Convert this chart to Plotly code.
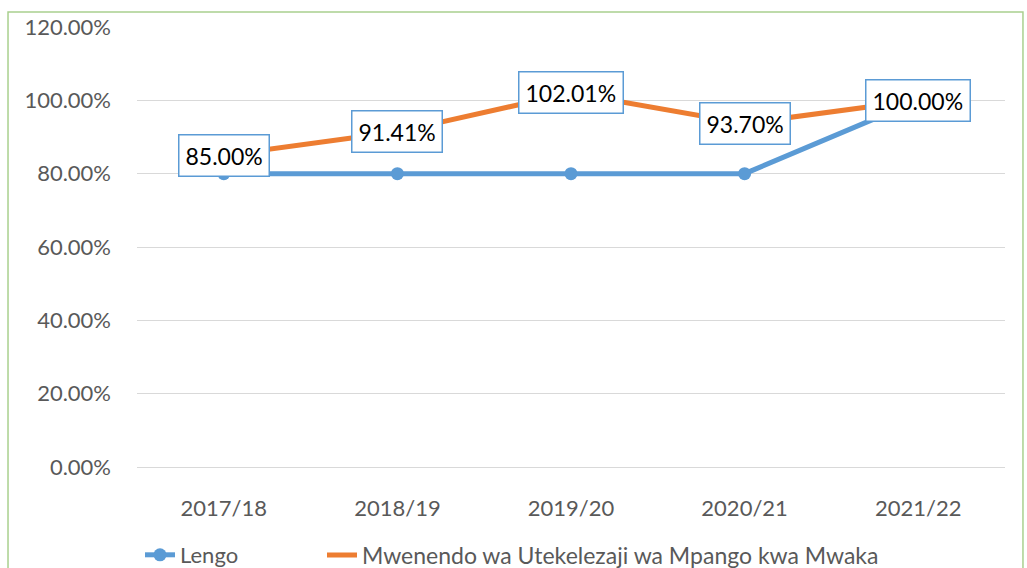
import plotly.graph_objects as go

categories = ["2017/18", "2018/19", "2019/20", "2020/21", "2021/22"]
lengo = [0.80, 0.80, 0.80, 0.80, 1.00]
mwenendo = [0.85, 0.9141, 1.0201, 0.9370, 1.00]
label_texts = ["85.00%", "91.41%", "102.01%", "93.70%", "100.00%"]
y_ticks = [0, 0.2, 0.4, 0.6, 0.8, 1.0, 1.2]

FONT = "Lato"
BLUE = "#5B9BD5"
ORANGE = "#ED7D31"

fig = go.Figure()
fig.add_trace(go.Scatter(
    x=categories, y=lengo, name="Lengo", mode="lines+markers",
    line=dict(color=BLUE, width=5), marker=dict(size=13, color=BLUE),
    legend="legend",
))
fig.add_trace(go.Scatter(
    x=categories, y=mwenendo, name="Mwenendo wa Utekelezaji wa Mpango kwa Mwaka",
    mode="lines", line=dict(color=ORANGE, width=5),
    legend="legend2",
))

for c, v, t in zip(categories, mwenendo, label_texts):
    fig.add_annotation(
        x=c, y=v, text=t, showarrow=False,
        font=dict(family=FONT, size=23, color="black"),
        bgcolor="white", bordercolor=BLUE, borderwidth=1.5, borderpad=6,
        xanchor="center", yanchor="middle",
    )

fig.add_shape(
    type="rect", xref="paper", yref="paper",
    x0=-0.1486, x1=1.0207, y0=-0.26, y1=1.034,
    line=dict(color="#A9D08E", width=1.5), fillcolor="rgba(0,0,0,0)", layer="below",
)

legend_common = dict(orientation="h", xref="container", yref="container",
                     xanchor="left", y=1 - 555 / 568, yanchor="middle",
                     bgcolor="rgba(0,0,0,0)")

fig.update_layout(
    width=1027, height=568,
    margin=dict(l=137, r=22, t=27, b=101, autoexpand=False),
    paper_bgcolor="white", plot_bgcolor="white",
    font=dict(family=FONT, color="#595959", size=22),
    showlegend=True,
    legend=dict(x=140 / 1027, font=dict(size=22, color="#595959"), **legend_common),
    legend2=dict(x=322 / 1027, font=dict(size=23, color="#595959"), **legend_common),
    xaxis=dict(range=[-0.5, 4.5], showgrid=False, showline=True, linecolor="#D9D9D9",
               linewidth=1, ticks="", tickfont=dict(size=22, color="#595959"),
               ticklabelstandoff=22, automargin=False, fixedrange=True),
    yaxis=dict(range=[0, 1.2], tickvals=y_ticks, tickformat=".2%", showgrid=True,
               gridcolor="#D9D9D9", gridwidth=1, zeroline=False, showline=False,
               ticks="", tickfont=dict(size=22, color="#595959"), ticklabelstandoff=25,
               automargin=False),
)

fig.write_html(
    "out.html",
    config={"displayModeBar": False},
    post_script="document.body.style.margin='0';document.body.style.overflow='hidden';",
)
